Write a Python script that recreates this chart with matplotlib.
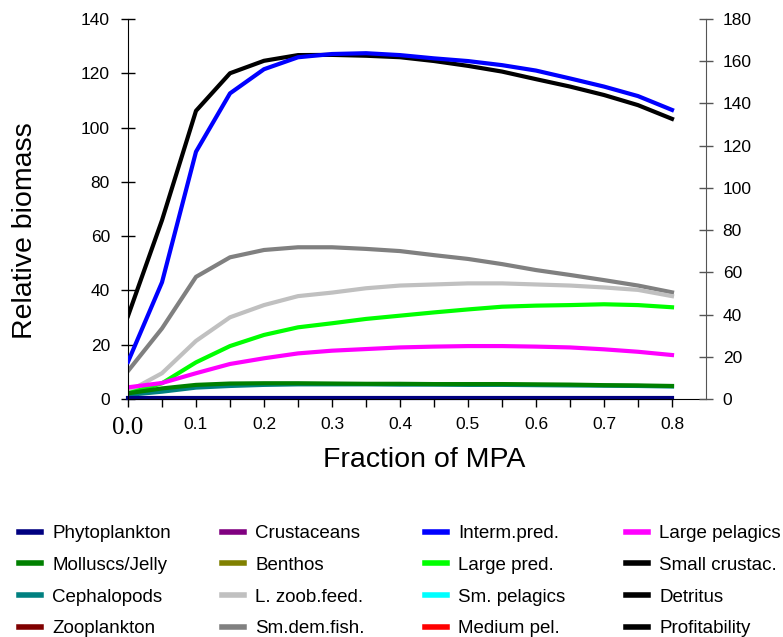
import matplotlib
matplotlib.use("Agg")
import matplotlib.pyplot as plt
from matplotlib.lines import Line2D
import numpy as np

plt.rcParams['font.family'] = ['Liberation Sans', 'DejaVu Sans']

# ---- data ----
mpa = [0.0, 0.05, 0.1, 0.15, 0.2, 0.25, 0.3, 0.35, 0.4, 0.45, 0.5,
       0.55, 0.6, 0.65, 0.7, 0.75, 0.8]

phytoplankton = [0.3] * 17
molluscs = [2.1, 3.9, 5.2, 5.7, 5.8, 5.8, 5.7, 5.6, 5.6, 5.5, 5.5,
            5.5, 5.4, 5.3, 5.1, 5.0, 4.8]
cephalopods = [1.5, 2.7, 4.2, 4.8, 5.2, 5.4, 5.4, 5.4, 5.3, 5.3, 5.2,
               5.2, 5.1, 5.0, 4.9, 4.8, 4.6]
l_zoob_feed = [2.7, 9.5, 21.4, 30.1, 34.6, 37.9, 39.2, 40.8, 41.8, 42.2, 42.6,
               42.6, 42.2, 41.8, 41.1, 40.2, 37.9]
sm_dem_fish = [10.3, 26.0, 45.0, 52.2, 54.9, 55.9, 55.9, 55.3, 54.5, 53.0, 51.6,
               49.7, 47.5, 45.7, 43.8, 41.8, 39.3]
interm_pred = [13.7, 43.0, 91.1, 112.6, 121.5, 125.9, 127.1, 127.4, 126.7, 125.5, 124.5,
               123.0, 121.0, 118.1, 115.1, 111.6, 106.5]
large_pred = [2.0, 5.8, 13.5, 19.5, 23.6, 26.4, 27.9, 29.5, 30.7, 31.9, 33.0,
              34.0, 34.4, 34.6, 34.9, 34.6, 33.8]
large_pelagics = [4.3, 5.9, 9.5, 12.9, 15.0, 16.8, 17.8, 18.4, 19.0, 19.3, 19.5,
                  19.5, 19.3, 19.0, 18.3, 17.4, 16.2]
# profitability on the right axis
profitability = [39.3, 84.7, 136.5, 154.3, 160.2, 162.9, 163.0, 162.6, 161.9, 160.1, 157.8,
                 155.1, 151.5, 148.0, 144.0, 139.2, 132.7]

legend_cols = [
    ["Phytoplankton", "Molluscs/Jelly", "Cephalopods", "Zooplankton"],
    ["Crustaceans", "Benthos", "L. zoob.feed.", "Sm.dem.fish."],
    ["Interm.pred.", "Large pred.", "Sm. pelagics", "Medium pel."],
    ["Large pelagics", "Small crustac.", "Detritus", "Profitability"],
]
colors = {
    "Phytoplankton": "#000080", "Molluscs/Jelly": "#008000", "Cephalopods": "#008080",
    "Zooplankton": "#800000", "Crustaceans": "#800080", "Benthos": "#808000",
    "L. zoob.feed.": "#C0C0C0", "Sm.dem.fish.": "#808080", "Interm.pred.": "#0000FF",
    "Large pred.": "#00FF00", "Sm. pelagics": "#00FFFF", "Medium pel.": "#FF0000",
    "Large pelagics": "#FF00FF", "Small crustac.": "#000000", "Detritus": "#000000",
    "Profitability": "#000000",
}

xticks_major = [0.0, 0.1, 0.2, 0.3, 0.4, 0.5, 0.6, 0.7, 0.8]
xtick_labels = ["0.0", "0.1", "0.2", "0.3", "0.4", "0.5", "0.6", "0.7", "0.8"]
left_ticks = [0, 20, 40, 60, 80, 100, 120, 140]
right_ticks = [0, 20, 40, 60, 80, 100, 120, 140, 160, 180]

# ---- figure ----
W, H = 783, 637
fig = plt.figure(figsize=(7.83, 6.37), dpi=100)
ax = fig.add_axes([128 / W, 1 - 399 / H, (706 - 128) / W, (399 - 19) / H])
ax2 = ax.twinx()

lw = 3.0
ax2.plot(mpa, profitability, color=colors["Profitability"], lw=lw, zorder=2)
ax.plot(mpa, sm_dem_fish, color=colors["Sm.dem.fish."], lw=lw)
ax.plot(mpa, l_zoob_feed, color=colors["L. zoob.feed."], lw=lw)
ax.plot(mpa, large_pred, color=colors["Large pred."], lw=lw)
ax.plot(mpa, large_pelagics, color=colors["Large pelagics"], lw=lw)
ax.plot(mpa, cephalopods, color=colors["Cephalopods"], lw=lw)
ax.plot(mpa, molluscs, color=colors["Molluscs/Jelly"], lw=lw)
ax.plot(mpa, phytoplankton, color=colors["Phytoplankton"], lw=lw, clip_on=False)

# blue drawn above black (converted to the right-axis scale)
interm_right = [v * 180 / 140 for v in interm_pred]
ax2.plot(mpa, interm_right, color=colors["Interm.pred."], lw=lw, zorder=3)

ax.set_xlim(0, 0.85)
ax.set_ylim(0, 140)
ax2.set_ylim(0, 180)

ax.set_xticks(xticks_major)
ax.set_xticklabels(xtick_labels)
ax.set_xticks(np.arange(0.05, 0.81, 0.1), minor=True)
ax.tick_params(axis='x', which='both', direction='out', length=6, width=1,
               labelsize=12.5, pad=7)
lbl0 = ax.get_xticklabels()[0]
lbl0.set_fontfamily('Liberation Serif')
lbl0.set_fontsize(18)

ax.set_yticks(left_ticks)
ax.tick_params(axis='y', direction='inout', length=10, width=1, labelsize=12.5, pad=8)
ax2.set_yticks(right_ticks)
ax2.tick_params(axis='y', direction='inout', length=10, width=1, labelsize=12.5,
                pad=7, color='#555555')

for a in (ax, ax2):
    a.spines['top'].set_visible(False)
ax.spines['right'].set_visible(False)
ax2.spines['left'].set_visible(False)
ax2.spines['bottom'].set_visible(False)
ax2.spines['right'].set_color('#555555')

ax.set_xlabel("Fraction of MPA", fontsize=20.5)
ax.xaxis.set_label_coords((424 - 128) / (706 - 128), -(460 - 399) / (399 - 19), transform=ax.transAxes)
ax.xaxis.label.set_va('center')
ax.set_ylabel("Relative biomass", fontsize=20.5)
ax.yaxis.set_label_coords(-(128 - 25) / (706 - 128), (399 - 231) / (399 - 19), transform=ax.transAxes)
ax.yaxis.label.set_va('center')

# legend: four columns
col_x = [19 / W, 222 / W, 425 / W, 626 / W]
for cx, names in zip(col_x, legend_cols):
    handles = [Line2D([0], [0], color=colors[n], lw=4) for n in names]
    fig.legend(handles, names, loc='upper left', bbox_to_anchor=(cx, 1 - 525 / H),
               frameon=False, fontsize=13.5, handlelength=1.17, handletextpad=0.6,
               labelspacing=0.78, borderaxespad=0, borderpad=0)

fig.savefig("out.png", dpi=100)
